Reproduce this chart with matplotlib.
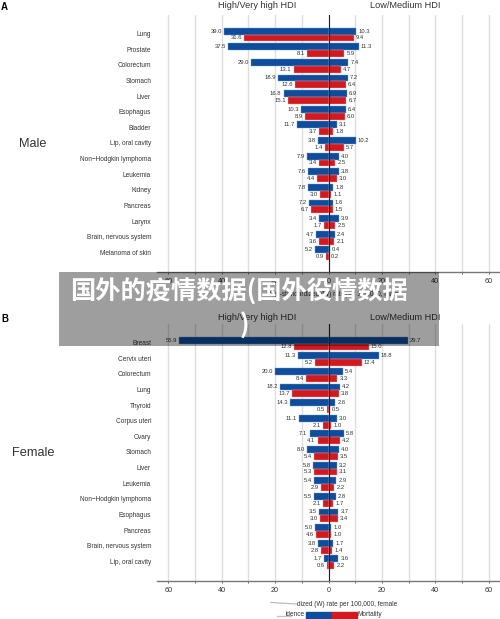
import matplotlib
matplotlib.use("Agg")
import matplotlib.pyplot as plt
from matplotlib.lines import Line2D
from matplotlib.patches import Rectangle

plt.rcParams['font.family'] = ['Liberation Sans', 'DejaVu Sans']

W, H = 500, 619

# Male panel
male_sites = ["Lung", "Prostate", "Colorectum", "Stomach", "Liver", "Esophagus", "Bladder",
              "Lip, oral cavity", "Non\u2212Hodgkin lymphoma", "Leukemia", "Kidney", "Pancreas",
              "Larynx", "Brain, nervous system", "Melanoma of skin"]
male_inc_high = [39.0, 37.5, 29.0, 18.9, 16.8, 10.3, 11.7, 3.8, 7.9, 7.6, 7.8, 7.2, 3.4, 4.7, 5.2]
male_mort_high = [31.6, 8.1, 13.1, 12.6, 15.1, 8.9, 3.7, 1.4, 3.4, 4.4, 3.0, 6.7, 1.7, 3.6, 0.9]
male_inc_low = [10.3, 11.3, 7.4, 7.2, 6.9, 6.4, 3.1, 10.2, 4.0, 3.8, 1.8, 1.6, 3.9, 2.4, 0.4]
male_mort_low = [9.4, 5.9, 4.7, 6.4, 6.7, 6.0, 1.8, 5.7, 2.5, 3.0, 1.1, 1.5, 2.5, 2.1, 0.2]

# Female panel
female_sites = ["Breast", "Cervix uteri", "Colorectum", "Lung", "Thyroid", "Corpus uteri", "Ovary",
                "Stomach", "Liver", "Leukemia", "Non\u2212Hodgkin lymphoma", "Esophagus", "Pancreas",
                "Brain, nervous system", "Lip, oral cavity"]
female_inc_high = [55.9, 11.3, 20.0, 18.2, 14.3, 11.1, 7.1, 8.0, 5.8, 5.4, 5.5, 3.5, 5.0, 3.8, 1.7]
female_mort_high = [12.8, 5.2, 8.4, 13.7, 0.5, 2.1, 4.1, 5.4, 5.3, 2.9, 2.1, 3.0, 4.6, 2.8, 0.6]
female_inc_low = [29.7, 18.8, 5.4, 4.2, 2.6, 3.0, 5.8, 4.0, 3.2, 2.9, 2.8, 3.7, 1.0, 1.7, 3.6]
female_mort_low = [15.0, 12.4, 3.3, 3.8, 0.5, 1.0, 4.2, 3.5, 3.1, 2.2, 1.7, 3.4, 1.0, 1.4, 2.2]

ticks = [-60, -50, -40, -30, -20, -10, 0, 10, 20, 30, 40, 50, 60]
tick_labels = ["60", "", "40", "", "20", "", "0", "", "20", "", "40", "", "60"]

BLUE = "#0f4c9c"
RED = "#d2191f"
TEXT = "#333333"


def px_axes(left, top, right, bottom):
    return fig.add_axes([left / W, 1 - bottom / H, (right - left) / W, (bottom - top) / H])


def draw_panel(ax, sites, inc_high, mort_high, inc_low, mort_low):
    ax.set_xlim(-64.2, 64.2)
    ax.set_ylim(14 + 1.2, -1.25)
    ax.set_axisbelow(True)
    ax.grid(axis='x', color='#dedede', lw=1.0)
    rows = list(range(len(sites)))
    h = 0.44
    ax.barh([r - 0.22 for r in rows], [-v for v in inc_high], height=h, color=BLUE, edgecolor='#6fa3d6', lw=0.3)
    ax.barh([r - 0.22 for r in rows], inc_low, height=h, color=BLUE, edgecolor='#6fa3d6', lw=0.3)
    ax.barh([r + 0.22 for r in rows], [-v for v in mort_high], height=h, color=RED, edgecolor='#f0a0a0', lw=0.3)
    ax.barh([r + 0.22 for r in rows], mort_low, height=h, color=RED, edgecolor='#f0a0a0', lw=0.3)
    ax.axvline(0, color='#222222', lw=0.8, zorder=5)
    for r in rows:
        ax.text(-inc_high[r] - 0.8, r - 0.22, f"{inc_high[r]:.1f}", ha='right', va='center', fontsize=4.2, color=TEXT)
        ax.text(inc_low[r] + 0.8, r - 0.22, f"{inc_low[r]:.1f}", ha='left', va='center', fontsize=4.2, color=TEXT)
        ax.text(-mort_high[r] - 0.8, r + 0.22, f"{mort_high[r]:.1f}", ha='right', va='center', fontsize=4.2, color=TEXT)
        ax.text(mort_low[r] + 0.8, r + 0.22, f"{mort_low[r]:.1f}", ha='left', va='center', fontsize=4.2, color=TEXT)
        ax.text(-64.2 - 2.2, r, sites[r], ha='right', va='center', fontsize=4.7, color=TEXT, clip_on=False)
    for side in ['top', 'left', 'right']:
        ax.spines[side].set_visible(False)
    ax.spines['bottom'].set_color('#777777')
    ax.spines['bottom'].set_linewidth(1.0)
    ax.set_yticks([])
    ax.set_xticks(ticks)
    ax.set_xticklabels(tick_labels, fontsize=5.2, color=TEXT)
    ax.tick_params(axis='x', length=1.5, width=0.6, color='#555555', pad=3)


fig = plt.figure(figsize=(W / 100, H / 100), dpi=100)

ax_m = px_axes(157, 15, 500, 272)
draw_panel(ax_m, male_sites, male_inc_high, male_mort_high, male_inc_low, male_mort_low)
ax_f = px_axes(157, 324, 500, 581)
draw_panel(ax_f, female_sites, female_inc_high, female_mort_high, female_inc_low, female_mort_low)


def fig_text(x, y, s, **kw):
    kw.setdefault('color', TEXT)
    fig.text(x / W, 1 - y / H, s, va='center', **kw)


fig_text(1, 7, "A", fontsize=7, fontweight='bold', color='black')
fig_text(1, 319, "B", fontsize=7, fontweight='bold', color='black')
fig_text(33, 143.5, "Male", fontsize=9.2, ha='center')
fig_text(33, 452.5, "Female", fontsize=9.2, ha='center')
for y in (5.5, 317):
    fig_text(257.5, y, "High/Very high HDI", fontsize=6.6, ha='center')
    fig_text(405, y, "Low/Medium HDI", fontsize=6.6, ha='center')

fig_text(268, 294, "Age-standardized (W) rate per 100,000, male", fontsize=4.7, ha='left')
fig_text(297, 604, "dized (W) rate per 100,000, female", fontsize=4.7, ha='left')
fig_text(305, 615, "idence", fontsize=4.7, ha='right')
fig_text(358, 615, "Mortality", fontsize=4.7, ha='left')
fig.add_artist(Rectangle((306 / W, 0), 26 / W, 7 / H, transform=fig.transFigure, color=BLUE))
fig.add_artist(Rectangle((332 / W, 0), 25 / W, 7 / H, transform=fig.transFigure, color=RED))

# smudged-out start of the axis label and legend text
fig.add_artist(Line2D([271 / W, 297 / W], [1 - 602.5 / H, 1 - 604 / H], transform=fig.transFigure,
                      color='#a898ac', lw=0.9, alpha=0.7))
fig.add_artist(Line2D([277 / W, 291 / W], [1 - 615.5 / H, 1 - 615.5 / H], transform=fig.transFigure,
                      color='#aaaaaa', lw=0.9, alpha=0.7))

# grey banner over the picture
fig.add_artist(Rectangle((59 / W, 1 - 346 / H), 380 / W, 74 / H, transform=fig.transFigure,
                         color='black', alpha=0.38, lw=0, zorder=10))
cjk = ['Noto Sans CJK SC', 'DejaVu Sans']
fig.text(238.5 / W, 1 - 292 / H, "国外的疫情数据(国外役情数据", family=cjk, fontsize=18.2, fontweight='bold',
         color='white', ha='center', va='center', zorder=11)
fig.text(244 / W, 1 - 326 / H, ")", family=cjk, fontsize=18.2, fontweight='bold',
         color='white', ha='center', va='center', zorder=11)

fig.savefig("out.png", dpi=100)
